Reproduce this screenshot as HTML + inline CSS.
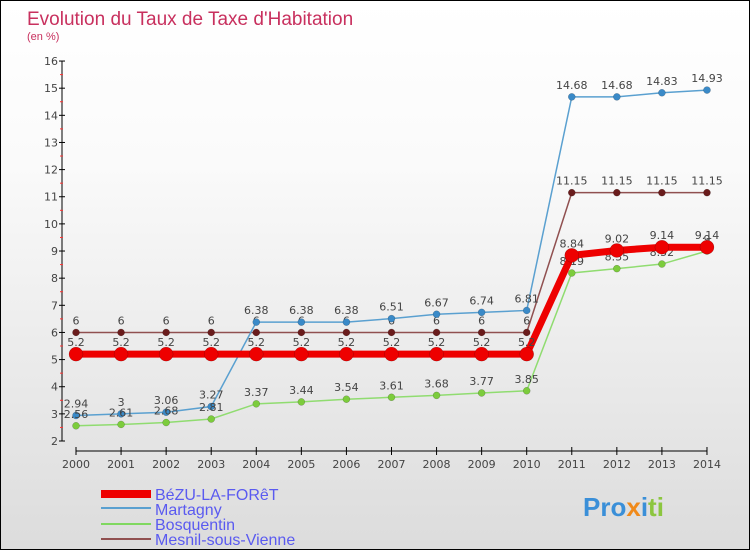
<!DOCTYPE html>
<html><head><meta charset="utf-8"><style>
body{margin:0}
#c{position:relative;width:748px;height:548px;border:1px solid #000;background:linear-gradient(#fff,#fafafa 30%,#dcdcdc);font-family:"DejaVu Sans","Liberation Sans",sans-serif;overflow:hidden}
</style></head><body>
<div id="c">
<svg id="s" width="748" height="548" xmlns="http://www.w3.org/2000/svg">
<text x="26" y="24" font-size="19" fill="#c8305e" font-family="Liberation Sans,sans-serif">Evolution du Taux de Taxe d'Habitation</text>
<text x="26" y="39" font-size="11" fill="#c8305e" font-family="Liberation Sans,sans-serif">(en %)</text>
<g id="axes"></g><g id="series"></g>
<g font-family="Liberation Sans,sans-serif" font-size="16" fill="#5a5af0">
<rect x="100" y="489" width="50" height="8" fill="#e00"/>
<text x="154" y="499">BéZU-LA-FORêT</text>
<line x1="100" y1="507" x2="150" y2="507" stroke="#5aa0d0" stroke-width="2"/>
<text x="154" y="514">Martagny</text>
<line x1="100" y1="523" x2="150" y2="523" stroke="#80d860" stroke-width="2"/>
<text x="154" y="529">Bosquentin</text>
<line x1="100" y1="538" x2="150" y2="538" stroke="#905050" stroke-width="2"/>
<text x="154" y="544">Mesnil-sous-Vienne</text>
</g>
<text x="582" y="515" font-size="26" font-weight="bold" font-family="Liberation Sans,sans-serif"><tspan fill="#3a8fd8">Pro</tspan><tspan fill="#f08a1a">x</tspan><tspan fill="#3a8fd8">i</tspan><tspan fill="#8cc63f">ti</tspan></text>
</svg></div>
<script>
const years=[2000,2001,2002,2003,2004,2005,2006,2007,2008,2009,2010,2011,2012,2013,2014];
const yTicks=[2,3,4,5,6,7,8,9,10,11,12,13,14,15,16];
const bezu=[5.2,5.2,5.2,5.2,5.2,5.2,5.2,5.2,5.2,5.2,5.2,8.84,9.02,9.14,9.14];
const martagny=[2.94,3,3.06,3.27,6.38,6.38,6.38,6.51,6.67,6.74,6.81,14.68,14.68,14.83,14.93];
const bosquentin=[2.56,2.61,2.68,2.81,3.37,3.44,3.54,3.61,3.68,3.77,3.85,8.19,8.35,8.52,9];
const mesnil=[6,6,6,6,6,6,6,6,6,6,6,11.15,11.15,11.15,11.15];
const NS="http://www.w3.org/2000/svg";
const X=i=>75+i*45.07, Y=v=>440-(v-2)*27.14;
function mk(t,a,p){const e=document.createElementNS(NS,t);for(const k in a)e.setAttribute(k,a[k]);p.appendChild(e);return e;}
const ax=document.getElementById('axes');
const yl=mk('line',{x1:61,y1:Y(16),x2:61,y2:Y(2),stroke:'#000'},ax);


yTicks.forEach(v=>{
 mk('line',{x1:58,y1:Y(v),x2:64,y2:Y(v),stroke:'#000'},ax);
 if(v<16)mk('line',{x1:59,y1:Y(v+0.5),x2:62,y2:Y(v+0.5),stroke:'#f33'},ax);
 const t=mk('text',{x:57,y:Y(v)+4,'font-size':11,fill:'#444','text-anchor':'end'},ax);t.textContent=v;
 
 
});
const xl=mk('line',{x1:X(0),y1:450,x2:X(14),y2:450,stroke:'#000'},ax);


years.forEach((y,i)=>{
 mk('line',{x1:X(i),y1:446,x2:X(i),y2:454,stroke:'#000'},ax);
 const t=mk('text',{x:X(i),y:467,'font-size':11,fill:'#444','text-anchor':'middle'},ax);t.textContent=y;
 
 
});
const sg=document.getElementById('series');
function draw(name,vals,color,w,r,dot){
 const g=mk('g',{},sg);
 
 
 mk('polyline',{points:vals.map((v,i)=>X(i)+','+Y(v)).join(' '),fill:'none',stroke:color,'stroke-width':w},g);
 vals.forEach((v,i)=>{
  const c=mk('circle',{cx:X(i),cy:Y(v),r:r,fill:dot,stroke:'rgba(0,0,0,0.3)','stroke-width':0.5},g);
  
  
  const t=mk('text',{x:X(i),y:Y(v)-8,'font-size':11,fill:'#444','text-anchor':'middle'},g);t.textContent=v;
  
  
 });
}
draw('mesnil',mesnil,'#905050',1.5,3.5,'#6a1c1c');
draw('martagny',martagny,'#5aa0d0',1.5,3.5,'#3a8ac8');
draw('bosquentin',bosquentin,'#90dc70',1.5,3.5,'#7ccc3c');
draw('bezu',bezu,'#ee0000',7,7,'#ee0000');
</script>
</body></html>
